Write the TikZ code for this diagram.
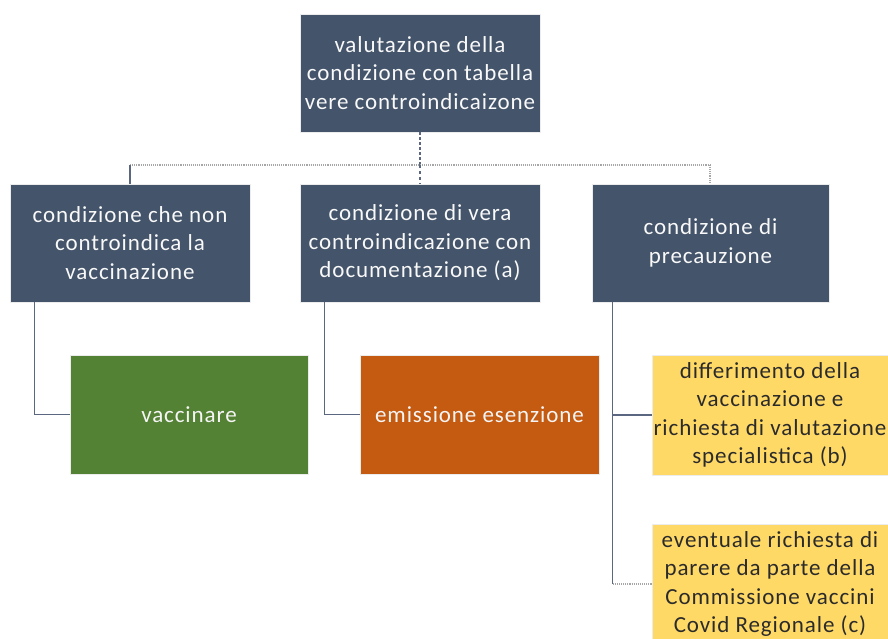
\documentclass[tikz,border=0pt]{standalone}
\usepackage{fontspec}
\setmainfont{Carlito}[LetterSpace=4]
\usetikzlibrary{calc}
\definecolor{darkbox}{HTML}{44546A}
\definecolor{greenbox}{HTML}{548235}
\definecolor{orangebox}{HTML}{C55A11}
\definecolor{yellowbox}{HTML}{FFD966}
\definecolor{linecol}{HTML}{5B6780}
\definecolor{yellowtext}{HTML}{2B2B2B}
\tikzset{
  box/.style={rectangle, draw=white!85!gray, line width=0.8pt, align=center,
    font=\fontsize{23}{28.5}\selectfont, inner sep=0pt},
  darkb/.style={box, fill=darkbox, text=white!95!gray, minimum height=118pt},
  greenb/.style={box, fill=greenbox, text=white!92!gray, minimum height=119pt},
  orangeb/.style={box, fill=orangebox, text=white!92!gray, minimum height=119pt},
  yellowb/.style={box, fill=yellowbox, text=yellowtext, minimum width=236pt, minimum height=120pt},
  conn/.style={draw=linecol, line width=1.1pt},
  dotconn/.style={draw=gray!70, line width=1.1pt, densely dotted},
}
\begin{document}
\begin{tikzpicture}[x=1pt,y=-1pt]
\useasboundingbox (0,0) rectangle (888,639);
\node[darkb, minimum width=240pt] (top) at (420,73) {valutazione della\\condizione con tabella\\vere controindicaizone};
\node[darkb, minimum width=240pt] (c1) at (130,243) {condizione che non\\controindica la\\vaccinazione};
\node[darkb, minimum width=240pt] (c2) at (420,243) {condizione di vera\\controindicazione con\\documentazione (a)};
\node[darkb, minimum width=237pt] (c3) at (710.5,243) {condizione di\\precauzione};
\node[greenb, minimum width=238pt] (vacc) at (189,414.5) {vaccinare};
\node[orangeb, minimum width=239pt] (esen) at (479.5,414.5) {emissione esenzione};
\node[yellowb] (y1) at (770,415) {differimento della\\vaccinazione e\\richiesta di valutazione\\specialistica (b)};
\node[yellowb] (y2) at (770,584) {eventuale richiesta di\\parere da parte della\\Commissione vaccini\\Covid Regionale (c)};

\coordinate (hub) at (420,165);
\coordinate (hl) at (130,165);
\coordinate (hr) at (710,165);
\draw[conn, densely dashed] (top.south) -- (hub);
\draw[dotconn] (hl) -- (hr);
\draw[conn] (hl) -- (c1.north);
\draw[conn, dashed] (hub) -- (c2.north);
\draw[dotconn] (hr) -- (hr |- c3.north);

\draw[conn] ($(c1.south west)+(25,0)$) |- (vacc.west);
\draw[conn] ($(c2.south west)+(25,0)$) |- (esen.west);
\coordinate (rj) at ($(c3.south west)+(21,0)$);
\draw[conn] (rj) |- (y1.west);
\draw[conn] (rj) -- (rj |- y2.west);
\draw[dotconn] (rj |- y2.west) -- (y2.west);
\end{tikzpicture}
\end{document}
